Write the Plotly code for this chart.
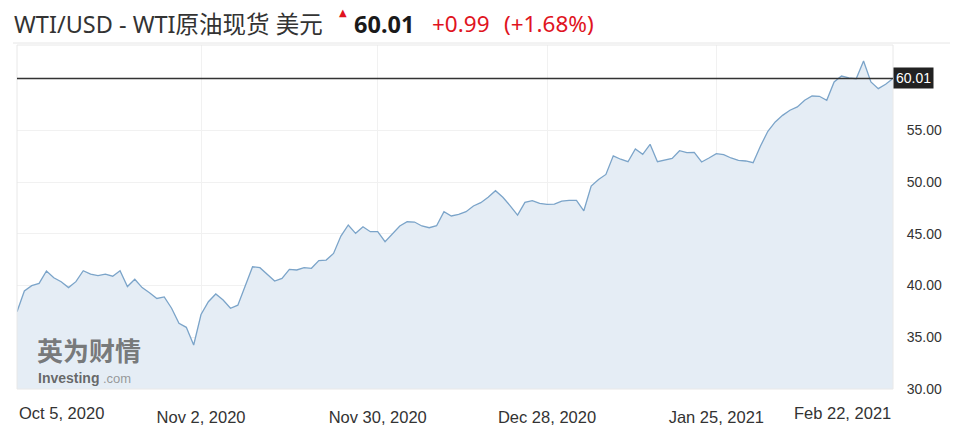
import plotly.graph_objects as go

# ---- data ----
prices = [
    37.47, 39.47, 39.98, 40.20, 41.40, 40.75, 40.37, 39.80, 40.37, 41.43,
    41.10, 40.95, 41.10, 40.90, 41.43, 39.90, 40.60, 39.80, 39.30, 38.75,
    38.90, 37.80, 36.35, 35.96, 34.25, 37.20, 38.43, 39.18, 38.60, 37.80,
    38.10, 40.00, 41.81, 41.72, 41.08, 40.43, 40.69, 41.56, 41.50, 41.72,
    41.66, 42.40, 42.46, 43.10, 44.78, 45.85, 45.04, 45.68, 45.20, 45.20,
    44.23, 45.04, 45.75, 46.16, 46.13, 45.75, 45.58, 45.78, 47.13, 46.72,
    46.88, 47.13, 47.68, 48.00, 48.52, 49.16, 48.52, 47.70, 46.80, 48.03,
    48.20, 47.94, 47.84, 47.87, 48.16, 48.22, 48.22, 47.22, 49.60, 50.25,
    50.73, 52.53, 52.20, 51.96, 53.19, 52.67, 53.64, 51.96, 52.09, 52.28,
    53.02, 52.83, 52.86, 51.93, 52.32, 52.74, 52.64, 52.32, 52.09, 52.03,
    51.86, 53.48, 54.90, 55.80, 56.44, 56.93, 57.25, 57.90, 58.31, 58.28,
    57.90, 59.67, 60.24, 60.05, 59.98, 61.69, 59.67, 59.02, 59.45, 60.01,
]
tick_index = [25, 49, 72, 95]
tick_labels = ["Nov 2, 2020", "Nov 30, 2020", "Dec 28, 2020", "Jan 25, 2021"]
first_label = "Oct 5, 2020"
last_label = "Feb 22, 2021"
y_ticks = [30, 35, 40, 45, 50, 55]
y_tick_labels = ["30.00", "35.00", "40.00", "45.00", "50.00", "55.00"]
last_price = 60.01
last_price_text = "60.01"
change_text = "+0.99"
change_pct_text = "(+1.68%)"
title_text = "WTI/USD - WTI原油现货 美元"

# ---- layout geometry (page body has an 8px margin) ----
OFF = 8
W, H = 963 - OFF, 439 - OFF
PLOT_L, PLOT_R, PLOT_T, PLOT_B = 17, 893, 45, 389   # screen pixels
L, R, T, B = PLOT_L - OFF, W - (PLOT_R - OFF), PLOT_T - OFF, H - (PLOT_B - OFF)
PW, PH = W - L - R, H - T - B


def px(xs):
    return (xs - PLOT_L) / PW


def py(ys):
    return (PLOT_B - ys) / PH


fig = go.Figure()
fig.add_trace(go.Scatter(
    x=list(range(len(prices))), y=prices, mode="lines",
    line=dict(color="#7ba4c9", width=1.3),
    fill="tozeroy", fillcolor="#e5edf5", hoverinfo="skip",
))

SANS = "Liberation Sans, Arial, sans-serif"
axis_font = dict(family=SANS, size=14, color="#333333")

fig.update_layout(
    width=W, height=H,
    margin=dict(l=L, r=R, t=T, b=B, pad=0),
    paper_bgcolor="white", plot_bgcolor="white",
    showlegend=False,
    xaxis=dict(
        range=[0, len(prices) - 1],
        tickvals=tick_index, ticktext=tick_labels,
        showgrid=True, gridcolor="#f1f1f1", gridwidth=1,
        zeroline=False, showline=False,
        ticks="outside", ticklen=13, tickcolor="rgba(0,0,0,0)",
        tickfont=dict(family=SANS, size=16.5, color="#333333"),
        fixedrange=True,
    ),
    yaxis=dict(
        range=[30, 30 + (PLOT_B - PLOT_T) / 10.35],
        side="right",
        tickvals=y_ticks, ticktext=y_tick_labels,
        showgrid=True, gridcolor="#f1f1f1", gridwidth=1,
        zeroline=False, showline=False,
        ticks="outside", ticklen=10, tickcolor="rgba(0,0,0,0)",
        tickfont=axis_font,
        fixedrange=True,
    ),
)

# plot border and current price line
fig.add_shape(type="rect", xref="paper", yref="paper", x0=0, x1=1, y0=0, y1=1,
              line=dict(color="#e8e8e8", width=1), layer="above")
fig.add_shape(type="line", xref="paper", yref="y", x0=0, x1=1,
              y0=last_price, y1=last_price, line=dict(color="#333333", width=1.5))

ann = []
# price tag on right axis
ann.append(dict(xref="paper", yref="y", x=1, y=last_price, xanchor="left", yanchor="middle",
                text=last_price_text, showarrow=False, bgcolor="#222222", borderpad=2,
                font=dict(family=SANS, size=14, color="white")))
# edge x labels
xl_y = py(413)
ann.append(dict(xref="paper", yref="paper", x=0, y=xl_y, xanchor="left", yanchor="middle",
                text=first_label, showarrow=False,
                font=dict(family=SANS, size=16.5, color="#333333")))
ann.append(dict(xref="paper", yref="paper", x=1, y=xl_y, xanchor="right", yanchor="middle",
                text=last_label, showarrow=False,
                font=dict(family=SANS, size=16.5, color="#333333")))

# header
title_font = "Noto Sans, Noto Sans CJK SC, sans-serif"
ann.append(dict(xref="paper", yref="paper", x=px(12), y=py(24), xanchor="left", yanchor="middle",
                text=title_text, showarrow=False,
                font=dict(family=title_font, size=23.5, color="#333333")))
ann.append(dict(xref="paper", yref="paper", x=px(343), y=py(12), xanchor="center", yanchor="middle",
                text="▲", showarrow=False,
                font=dict(family="DejaVu Sans", size=10, color="#e0141e")))
ann.append(dict(xref="paper", yref="paper", x=px(352), y=py(24), xanchor="left", yanchor="middle",
                text="<b>" + last_price_text + "</b>", showarrow=False,
                font=dict(family=title_font, size=23.5, color="#1a1a1a")))
ann.append(dict(xref="paper", yref="paper", x=px(430), y=py(24), xanchor="left", yanchor="middle",
                text=change_text, showarrow=False,
                font=dict(family=title_font, size=22.5, color="#e0141e")))
ann.append(dict(xref="paper", yref="paper", x=px(502), y=py(24), xanchor="left", yanchor="middle",
                text=change_pct_text, showarrow=False,
                font=dict(family=title_font, size=22.5, color="#e0141e")))

# watermark logo
ann.append(dict(xref="paper", yref="paper", x=px(35), y=py(349), xanchor="left", yanchor="middle",
                text="<b>英为财情</b>", showarrow=False,
                font=dict(family="Noto Sans CJK SC", size=26, color="rgba(90,90,90,0.8)")))
ann.append(dict(xref="paper", yref="paper", x=px(36), y=py(378), xanchor="left", yanchor="middle",
                text="<b>Investing</b>", showarrow=False,
                font=dict(family=SANS, size=14, color="rgba(80,80,80,0.85)")))
ann.append(dict(xref="paper", yref="paper", x=px(101), y=py(378), xanchor="left", yanchor="middle",
                text=".com", showarrow=False,
                font=dict(family=SANS, size=13, color="rgba(130,130,130,0.8)")))

# separator line under header
fig.add_shape(type="line", xref="paper", yref="paper", x0=px(13), x1=px(950), y0=py(43), y1=py(43),
              line=dict(color="#e6e6e6", width=1))

fig.update_layout(annotations=ann)
fig.write_html("out.html")
